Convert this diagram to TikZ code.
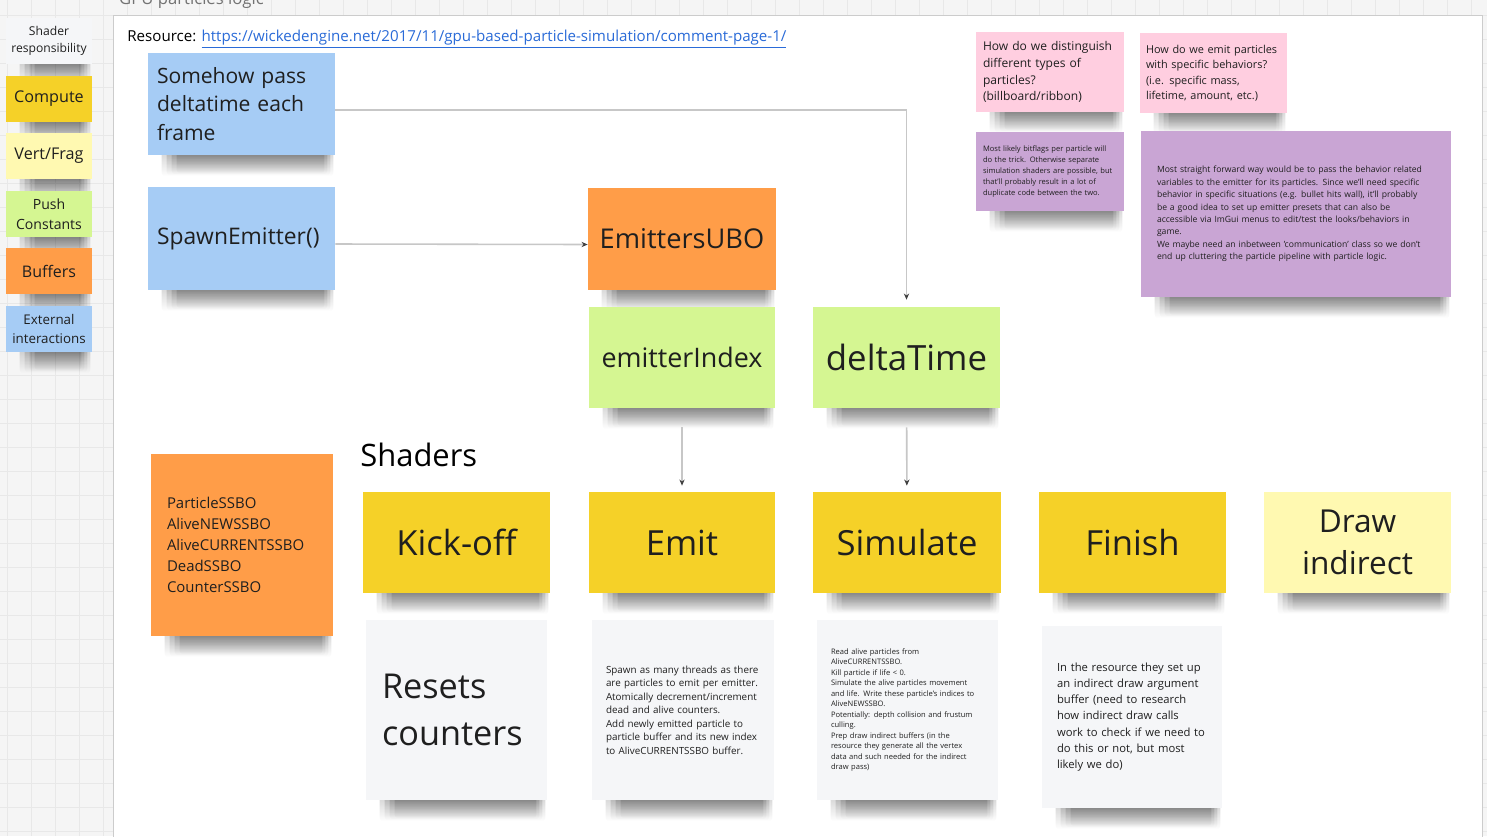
\documentclass[tikz,border=0pt]{standalone}
\usepackage{fontspec}
\setmainfont{Open Sans}
\usetikzlibrary{arrows.meta,positioning,calc,fadings}
\pgfdeclarelayer{back}
\pgfdeclarelayer{shade}
\pgfsetlayers{back,shade,main}
\hyphenpenalty=10000

\definecolor{stkyellow}{HTML}{F5D128}
\definecolor{stklight}{HTML}{FFF9B1}
\definecolor{stkgreen}{HTML}{D5F692}
\definecolor{stkorange}{HTML}{FF9D48}
\definecolor{stkblue}{HTML}{A6CCF5}
\definecolor{stkpink}{HTML}{FFCEE0}
\definecolor{stkviolet}{HTML}{C9A5D4}
\definecolor{stkwhite}{HTML}{F5F6F8}
\definecolor{linkblue}{HTML}{2A6BD8}

\tikzfading[name=stkfade, top color=transparent!10, bottom color=transparent!100]

\newcommand{\fsz}[2]{\fontsize{#1}{#2}\selectfont}
% soft shadow under the bottom edge of a sticky
\newcommand{\stkshadow}[1]{%
  \foreach \k in {0,...,3}
    \fill[black, opacity=0.2, rounded corners=2pt, path fading=stkfade, fit fading=true]
      ([xshift={(14+5*\k)*0.02cm}, yshift=0.12cm]#1.south west) rectangle ([xshift={-(2+3*\k)*0.02cm}, yshift={-(21-\k)*0.02cm}]#1.south east);
}

\tikzset{
  sticky/.style={rectangle, inner sep=0pt, text=black!88},
  sz/.style 2 args={minimum width=#1*0.02cm, minimum height=#2*0.02cm},
  note/.style n args={3}{sz={#1}{#2}, inner xsep=#3*0.02cm, align=left,
    /utils/exec={\pgfmathsetlengthmacro\notetw{(#1-2*#3)*0.02cm}}, text width=\notetw},
  legend/.style={sticky, sz={86}{46}, align=center},
  conn/.style={draw=black!22, line width=0.9pt, -{Stealth[length=3.5pt,width=3pt,color=black!75]}},
}

\begin{document}
\begin{tikzpicture}[x=0.02cm, y=-0.02cm]
    \useasboundingbox (0,0) rectangle (1487,836);
    % canvas
    \begin{pgfonlayer}{back}
    \fill[black!4] (0,0) rectangle (1487,836);
    \foreach \gx in {7,31,...,1487} \draw[black!9, line width=0.4pt] (\gx,0) -- (\gx,836);
    \foreach \gy in {15,39,...,836} \draw[black!9, line width=0.4pt] (0,\gy) -- (1487,\gy);
    \draw[black!20, fill=white] (113,15) rectangle (1482,850);
    \end{pgfonlayer}
    \node[anchor=base west, text=black!55, font=\fsz{9.5}{11}] (title) at (113,4) {GPU particles logic};
    %% legend
    \node[legend, fill=stkwhite, font=\fsz{6.9}{9.6}] (lgshader) at (49,40.5) {Shader\\responsibility};
    \node[legend, fill=stkyellow, font=\fsz{9.2}{11}] (lgcompute) at (49,99) {Compute};
    \node[legend, fill=stklight, font=\fsz{9.2}{11}] (lgvert) at (49,156) {Vert/Frag};
    \node[legend, fill=stkgreen, font=\fsz{8}{11.3}] (lgpush) at (49,214) {Push\\Constants};
    \node[legend, fill=stkorange, font=\fsz{9.1}{11}] (lgbuf) at (49,271) {Buffers};
    \node[legend, fill=stkblue, font=\fsz{7.6}{10.8}] (lgext) at (49,329) {External\\interactions};
    %% resource
    \node[anchor=west, inner sep=0pt, font=\fsz{8.6}{10}] (resource) at (127,39.5)
        {Resource: \textcolor{linkblue}{\underline{https://wickedengine.net/2017/11/gpu-based-particle-simulation/comment-page-1/}}};
    %% external interactions
    \node[sticky, fill=stkblue, note={187}{102}{9}, font=\fsz{12}{16.2}] (pass) at (241.5,104)
        {Somehow pass\\deltatime each\\frame};
    \node[sticky, fill=stkblue, note={187}{103}{9}, font=\fsz{13}{16}] (spawn) at (241.5,238.5) {SpawnEmitter()};
    %% buffers and push constants
    \node[sticky, fill=stkorange, sz={188}{102}, font=\fsz{15.5}{18}] (emitubo) at (682,239) {EmittersUBO};
    \node[sticky, fill=stkgreen, sz={186}{101}, font=\fsz{15.3}{18}] (emitidx) at (682,357.5) {emitterIndex};
    \node[sticky, fill=stkgreen, sz={187}{101}, font=\fsz{19.8}{22}] (dtime) at (906.5,357.5) {deltaTime};
    \node[sticky, fill=stkorange, note={182}{182}{16}, font=\fsz{8.5}{12}] (buffers) at (242,545)
        {ParticleSSBO\\AliveNEWSSBO\\AliveCURRENTSSBO\\DeadSSBO\\CounterSSBO};
    %% shaders
    \node[anchor=west, inner sep=0pt, font=\fsz{17.6}{20}] (shaders) at (360,455) {Shaders};
    \node[sticky, fill=stkyellow, sz={187}{101}, font=\fsz{19.7}{22}] (kickoff) at (456.5,542.5) {Kick-off};
    \node[sticky, fill=stkyellow, sz={186}{101}, font=\fsz{19.7}{22}] (emit) at (682,542.5) {Emit};
    \node[sticky, fill=stkyellow, sz={188}{101}, font=\fsz{19.7}{22}] (simulate) at (907,542.5) {Simulate};
    \node[sticky, fill=stkyellow, sz={187}{101}, font=\fsz{19.7}{22}] (finish) at (1132.5,542.5) {Finish};
    \node[sticky, fill=stklight, sz={187}{101}, align=center, font=\fsz{18}{23.8}] (drawind) at (1357.5,542.5) {Draw\\indirect};
    %% shader notes
    \node[sticky, fill=stkwhite, note={181}{180}{16}, font=\fsz{19.5}{26.6}] (resets) at (456.5,710) {Resets\\counters};
    \node[sticky, fill=stkwhite, note={182}{180}{14}, font=\fsz{5.6}{7.7}] (emitnote) at (683,710)
        {Spawn as many threads as there\\are particles to emit per emitter.\\Atomically decrement/increment\\dead and alive counters.\\Add newly emitted particle to\\particle buffer and its new index\\to AliveCURRENTSSBO buffer.};
    \node[sticky, fill=stkwhite, note={181}{180}{14}, font=\fsz{4.3}{6}] (simnote) at (907.5,710)
        {Read alive particles from\\AliveCURRENTSSBO.\\Kill particle if life < 0.\\Simulate the alive particles movement\\and life. Write these particle's indices to\\AliveNEWSSBO.\\Potentially: depth collision and frustum\\culling.\\Prep draw indirect buffers (in the\\resource they generate all the vertex\\data and such needed for the indirect\\draw pass)};
    \node[sticky, fill=stkwhite, note={180}{182}{15}, font=\fsz{6.4}{9.2}] (finnote) at (1132,717)
        {In the resource they set up\\an indirect draw argument\\buffer (need to research\\how indirect draw calls\\work to check if we need to\\do this or not, but most\\likely we do)};
    %% questions
    \node[sticky, fill=stkpink, note={148}{80}{7}, font=\fsz{6.85}{9.6}] (typesq) at (1050,72)
        {How do we distinguish\\different types of\\particles?\\(billboard/ribbon)};
    \node[sticky, fill=stkpink, note={147}{80}{6}, font=\fsz{6.2}{8.8}] (behq) at (1213.5,73)
        {How do we emit particles\\with specific behaviors?\\(i.e. specific mass,\\lifetime, amount, etc.)};
    \node[sticky, fill=stkviolet, note={148}{79}{7}, font=\fsz{4.3}{6.2}] (typesa) at (1050,171.5)
        {Most likely bitflags per particle will\\do the trick. Otherwise separate\\simulation shaders are possible, but\\that'll probably result in a lot of\\duplicate code between the two.};
    \node[sticky, fill=stkviolet, note={310}{166}{16}, font=\fsz{4.9}{7.1}] (beha) at (1296,214)
        {Most straight forward way would be to pass the behavior related\\variables to the emitter for its particles. Since we'll need specific\\behavior in specific situations (e.g. bullet hits wall), it'll probably\\be a good idea to set up emitter presets that can also be\\accessible via ImGui menus to edit/test the looks/behaviors in\\game.\\We maybe need an inbetween 'communication' class so we don't\\end up cluttering the particle pipeline with particle logic.};
    %% shadows
    \begin{pgfonlayer}{shade}
    \foreach \s in {lgshader,lgcompute,lgvert,lgpush,lgbuf,lgext,pass,spawn,emitubo,emitidx,dtime,buffers,
                    kickoff,emit,simulate,finish,drawind,resets,emitnote,simnote,finnote,typesq,behq,typesa,beha}
        {\stkshadow{\s}}
    \end{pgfonlayer}
    %% connectors
    \draw[conn, shorten >=0.14cm] ([yshift=-0.12cm]pass.east) -| (dtime.north);
    \draw[conn] ([yshift=-0.11cm]spawn.east) -- ([yshift=-0.11cm]emitubo.west);
    \draw[conn, shorten <=0.38cm, shorten >=0.12cm] (emitidx) -- (emit);
    \draw[conn, shorten <=0.38cm, shorten >=0.12cm] (dtime) -- (simulate);
\end{tikzpicture}
\end{document}
